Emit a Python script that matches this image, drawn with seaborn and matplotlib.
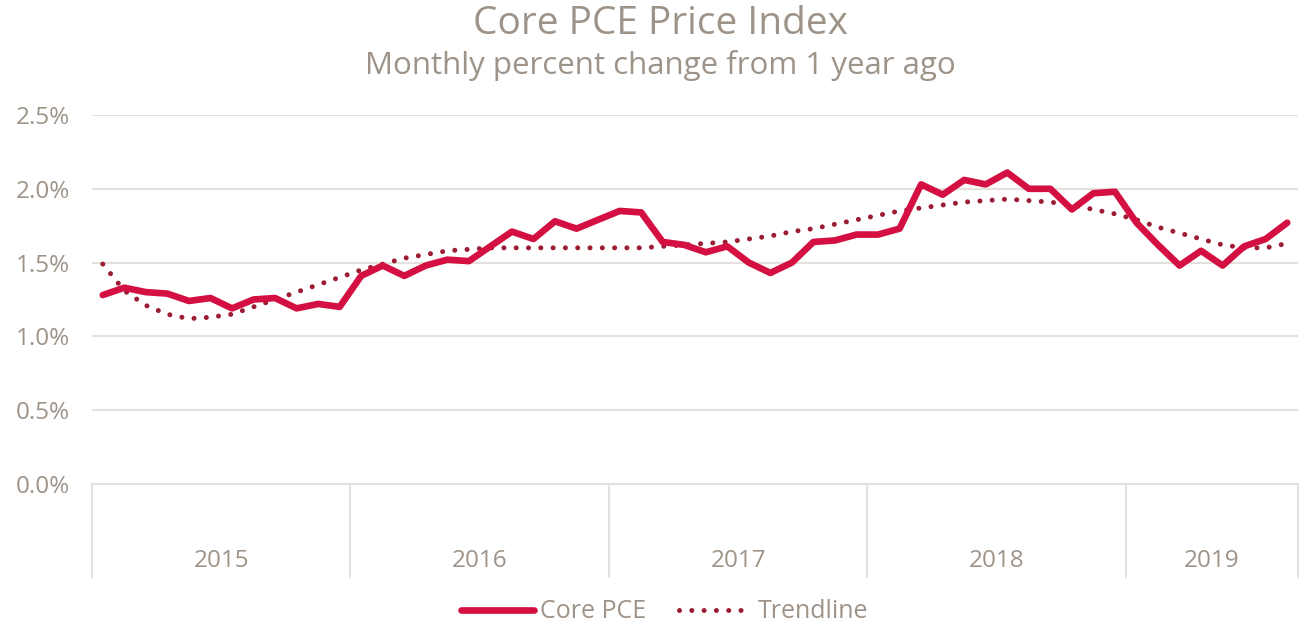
import pandas as pd
import matplotlib
matplotlib.use("Agg")
import matplotlib.pyplot as plt
import matplotlib.transforms as mtransforms
from matplotlib.lines import Line2D
import seaborn as sns

# Data (percent, Jan 2015 .. Aug 2019)
years = ["2015", "2016", "2017", "2018", "2019"]
months_per_year = [12, 12, 12, 12, 8]

core_pce = [1.28, 1.33, 1.30, 1.29, 1.24, 1.26, 1.19, 1.25, 1.26, 1.19, 1.22, 1.20,
            1.41, 1.48, 1.41, 1.48, 1.52, 1.51, 1.61, 1.71, 1.66, 1.78, 1.73, 1.79,
            1.85, 1.84, 1.64, 1.62, 1.57, 1.61, 1.50, 1.43, 1.50, 1.64, 1.65, 1.69,
            1.69, 1.73, 2.03, 1.96, 2.06, 2.03, 2.11, 2.00, 2.00, 1.86, 1.97, 1.98,
            1.77, 1.62, 1.48, 1.58, 1.48, 1.61, 1.66, 1.77]

trendline = [1.49, 1.31, 1.21, 1.15, 1.12, 1.13, 1.15, 1.20, 1.25, 1.30, 1.35, 1.40,
             1.45, 1.49, 1.53, 1.555, 1.58, 1.59, 1.60, 1.60, 1.60, 1.60, 1.60, 1.60,
             1.60, 1.60, 1.61, 1.62, 1.63, 1.64, 1.66, 1.68, 1.71, 1.73, 1.76, 1.79,
             1.82, 1.85, 1.87, 1.89, 1.91, 1.92, 1.93, 1.92, 1.91, 1.89, 1.86, 1.83,
             1.79, 1.74, 1.70, 1.66, 1.62, 1.60, 1.60, 1.63]

yticks = [0.0, 0.5, 1.0, 1.5, 2.0, 2.5]

LINE_RED = "#D31041"
TREND_RED = "#9C1C34"
TEXT_GRAY = "#9E9388"
GRID_GRAY = "#E4E1DD"

df = pd.DataFrame({
    "month": range(len(core_pce)),
    "Core PCE": core_pce,
    "Trendline": trendline,
})

sns.set_theme(style="white")
plt.rcParams["font.family"] = ["Open Sans", "DejaVu Sans"]

fig = plt.figure(figsize=(13.13, 6.25), dpi=100)
ax = fig.add_axes([92 / 1313, 141 / 625, 1206 / 1313, 369 / 625])

sns.lineplot(data=df, x="month", y="Trendline", ax=ax, color=TREND_RED,
             linewidth=3.6, linestyle=(0, (0.01, 2.45)),
             dash_capstyle="round", zorder=3)
sns.lineplot(data=df, x="month", y="Core PCE", ax=ax, color=LINE_RED,
             linewidth=4.8, zorder=4)
for ln in ax.lines:
    ln.set_dash_capstyle("round")

n = len(core_pce)
ax.set_xlim(-0.5, n - 0.5)
ax.set_ylim(0, 2.5)
ax.set_yticks(yticks)
ax.set_yticklabels([f"{v:.1f}%" for v in yticks])
ax.set_xticks([])
ax.set_xlabel("")
ax.set_ylabel("")
ax.tick_params(axis="y", length=0, pad=16, labelsize=17.5, labelcolor=TEXT_GRAY)

for v in yticks[1:]:
    ax.axhline(v, color=GRID_GRAY, linewidth=1.5, zorder=1)

for side in ["top", "right", "left"]:
    ax.spines[side].set_visible(False)
ax.spines["bottom"].set_color(GRID_GRAY)
ax.spines["bottom"].set_linewidth(1.5)

# multi-level category axis: year separators and labels
trans = mtransforms.blended_transform_factory(ax.transData, ax.transAxes)
start = -0.5
for year, cnt in zip(years, months_per_year):
    ax.plot([start, start], [0, -0.252], transform=trans, color=GRID_GRAY,
            linewidth=1.5, clip_on=False)
    ax.text(start + cnt / 2, -0.209, year, transform=trans, ha="center",
            va="center", fontsize=17.5, color=TEXT_GRAY)
    start += cnt
ax.plot([start, start], [0, -0.252], transform=trans, color=GRID_GRAY,
        linewidth=1.5, clip_on=False)

fig.text(0.503, 0.962, "Core PCE Price Index", ha="center", va="center",
         fontsize=28, color=TEXT_GRAY)
fig.text(0.503, 0.895, "Monthly percent change from 1 year ago", ha="center",
         va="center", fontsize=22.5, color=TEXT_GRAY)

handles = [
    Line2D([], [], color=LINE_RED, linewidth=4.8, solid_capstyle="round"),
    Line2D([], [], color=TREND_RED, linewidth=3.6, linestyle=(0, (0.01, 2.45)),
           dash_capstyle="round"),
]
fig.legend(handles, ["Core PCE", "Trendline"], loc="center",
           bbox_to_anchor=(0.506, 0.021), ncol=2, frameon=False,
           fontsize=18, labelcolor=TEXT_GRAY, handlelength=2.9,
           handletextpad=0.25, columnspacing=1.3)
if ax.get_legend() is not None:
    ax.get_legend().remove()

fig.savefig("out.png", dpi=100)
